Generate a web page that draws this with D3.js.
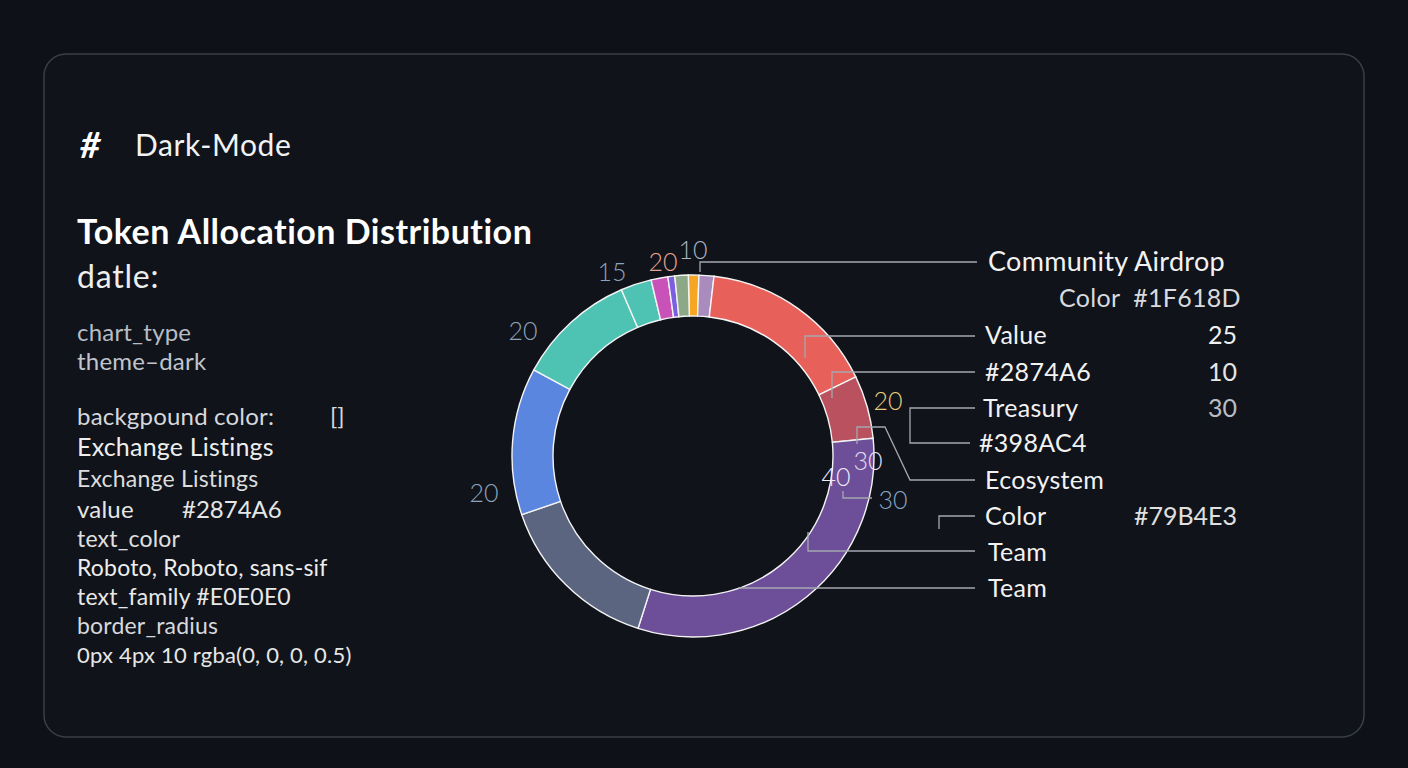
<!DOCTYPE html>
<html>
<head>
<meta charset="utf-8">
<script src="https://cdn.jsdelivr.net/npm/d3@7"></script>
<style>
  html, body { margin: 0; padding: 0; background: #0e1117; }
  svg { display: block; }
  text { font-family: Lato, "Noto Sans", sans-serif; }
</style>
</head>
<body>
<div id="chart"></div>
<script>
// Slices, clockwise from just left of 12 o'clock (share of the ring, %)
const slice_keys   = ['orange', 'lavender', 'red', 'darkred', 'purple', 'slate', 'blue', 'teal', 'teal2', 'pink', 'violet', 'green'];
const slice_values = [0.94, 1.33, 15.94, 5.64, 31.47, 14.83, 13.14, 10.64, 2.75, 1.5, 0.61, 1.19];
const slice_colors = ['#F5A623', '#A98BBE', '#E8605A', '#B9525E', '#6C4F98', '#5B6580', '#5B86E0', '#4FC3B3', '#4FC3B3', '#C952B8', '#7B5FE0', '#8DA886'];

// Numbers floating round the ring
const ring_labels = ['10', '20', '15', '20', '20', '20', '30', '40', '30'];

// Left-hand notes
const note_lines = ['chart_type', 'theme\u2013dark', 'backgpound color:', 'Exchange Listings', 'Exchange Listings',
                    'value', 'text_color', 'Roboto, Roboto, sans-sif', 'text_family #E0E0E0', 'border_radius',
                    '0px 4px 10 rgba(0, 0, 0, 0.5)'];

// Right-hand callouts: label, value column
const callout_labels = ['Community Airdrop', 'Color  #1F618D', 'Value', '#2874A6', 'Treasury', '#398AC4', 'Ecosystem', 'Color', 'Team', 'Team'];
const callout_values = ['', '', '25', '10', '30', '', '', '#79B4E3', '', ''];

const width = 1408, height = 768;
const cx = 693, cy = 456, outer = 181, inner = 140;

const svg = d3.select('#chart').append('svg')
  .attr('width', width)
  .attr('height', height)
  .attr('viewBox', [0, 0, width, height]);

svg.append('rect').attr('width', width).attr('height', height).attr('fill', '#0e1117');

// Card //////////////////////////////////////////////////////////////////////
svg.append('rect')
  .attr('x', 44).attr('y', 54)
  .attr('width', 1320).attr('height', 683)
  .attr('rx', 22)
  .attr('fill', '#10131a')
  .attr('stroke', '#3a3e47')
  .attr('stroke-width', 1.5);

// Header and notes //////////////////////////////////////////////////////////
svg.append('text').attr('x', 80).attr('y', 158)
  .attr('font-size', 36).attr('font-weight', 700).attr('font-style', 'italic')
  .attr('fill', '#ffffff').text('#');
svg.append('text').attr('x', 135).attr('y', 156)
  .attr('font-size', 30).attr('letter-spacing', 0.6).attr('fill', '#f2f2f2').text('Dark-Mode');

svg.append('text').attr('x', 77).attr('y', 244)
  .attr('font-size', 34).attr('font-weight', 700).attr('letter-spacing', 0.5).attr('fill', '#ffffff')
  .text('Token Allocation Distribution');
svg.append('text').attr('x', 77).attr('y', 288)
  .attr('font-size', 32).attr('letter-spacing', 0.8).attr('fill', '#eeeeee').text('datle:');

const note_y    = [341, 370, 425, 456, 487, 518, 547, 576, 605, 634, 663];
const note_size = [24, 24, 24, 25, 23, 24, 23, 23, 23, 23, 22];
const note_fill = ['#b8bcc4', '#c0c4cc', '#d6d8dc', '#eeeeee', '#dddddd', '#e6e6e6', '#e0e0e0', '#eeeeee', '#e8e8e8', '#d6d8dc', '#e6e6e6'];

svg.append('g').selectAll('text')
  .data(note_lines)
  .join('text')
  .attr('x', 77)
  .attr('y', (d, i) => note_y[i])
  .attr('font-size', (d, i) => note_size[i])
  .attr('letter-spacing', 0.2)
  .attr('fill', (d, i) => note_fill[i])
  .text(d => d);

svg.append('text').attr('x', 330).attr('y', 425).attr('font-size', 24).attr('fill', '#d6d8dc').text('[]');
svg.append('text').attr('x', 182).attr('y', 518).attr('font-size', 24).attr('fill', '#e6e6e6').text('#2874A6');

// Donut /////////////////////////////////////////////////////////////////////
const pie = d3.pie()
  .sort(null)
  .value(d => d.value)
  .startAngle(-1.5 * Math.PI / 180)
  .endAngle(2 * Math.PI - 1.5 * Math.PI / 180);

const arc = d3.arc().innerRadius(inner).outerRadius(outer);
const color = d3.scaleOrdinal().domain(slice_keys).range(slice_colors);

const slices = slice_keys.map((k, i) => ({ key: k, value: slice_values[i] }));

const ring = svg.append('g').attr('transform', `translate(${cx},${cy})`);
ring.selectAll('path')
  .data(pie(slices))
  .join('path')
  .attr('d', arc)
  .attr('fill', d => color(d.data.key))
  .attr('stroke', '#f4f4f4')
  .attr('stroke-width', 1.4);

// Leader lines //////////////////////////////////////////////////////////////
const leaders = [
  [[700, 272], [700, 262], [977, 262]],
  [[805, 358], [805, 336], [975, 336]],
  [[832, 398], [832, 372], [975, 372]],
  [[975, 408], [910, 408], [910, 443], [970, 443]],
  [[857, 444], [857, 427], [885, 427], [910, 480], [975, 480]],
  [[843, 491], [843, 498], [872, 498]],
  [[939, 529], [939, 516], [975, 516]],
  [[808, 532], [808, 551], [975, 551]],
  [[738, 588], [975, 588]]
];

svg.append('g')
  .attr('fill', 'none')
  .attr('stroke', '#a4a8b0')
  .attr('stroke-width', 1.3)
  .selectAll('path')
  .data(leaders)
  .join('path')
  .attr('d', d => d3.line()(d));

// Ring value labels ////////////////////////////////////////////////////////
const ring_label_xy   = [[693, 259], [663, 271], [612, 281], [523, 340], [484, 502], [888, 410], [868, 470], [836, 486], [893, 509]];
const ring_label_fill = ['#aab4c4', '#e8a392', '#8ea4bc', '#8ea4bc', '#8ea4bc', '#e8cc7a', '#e6dcf2', '#f0eaf8', '#86a6c4'];

svg.append('g').selectAll('text')
  .data(ring_labels)
  .join('text')
  .attr('x', (d, i) => ring_label_xy[i][0])
  .attr('y', (d, i) => ring_label_xy[i][1])
  .attr('text-anchor', 'middle')
  .attr('font-size', 25)
  .attr('font-weight', 300)
  .attr('fill', (d, i) => ring_label_fill[i])
  .text(d => d);

// Right callouts ///////////////////////////////////////////////////////////
const callout_y    = [271, 307, 344, 381, 417, 452, 489, 525, 561, 597];
const callout_x    = [988, 1059, 985, 985, 983, 979, 985, 985, 988, 988];
const callout_size = [27, 25, 25, 25, 25, 25, 25, 25, 25, 25];
const value_fill   = ['', '', '#f0f0f0', '#e6e6e6', '#b8bcc4', '', '', '#e0e0e0', '', ''];

const callouts = svg.append('g');
callouts.selectAll('text.label')
  .data(callout_labels)
  .join('text')
  .attr('class', 'label')
  .attr('x', (d, i) => callout_x[i])
  .attr('y', (d, i) => callout_y[i])
  .attr('font-size', (d, i) => callout_size[i])
  .attr('letter-spacing', 0.3)
  .attr('fill', (d, i) => i === 1 ? '#d8dade' : '#f2f2f2')
  .attr('xml:space', 'preserve')
  .style('white-space', 'pre')
  .text(d => d);

callouts.selectAll('text.value')
  .data(callout_values)
  .join('text')
  .attr('class', 'value')
  .attr('x', 1237)
  .attr('y', (d, i) => callout_y[i])
  .attr('text-anchor', 'end')
  .attr('font-size', 25)
  .attr('fill', (d, i) => value_fill[i])
  .text(d => d);
</script>
</body>
</html>
